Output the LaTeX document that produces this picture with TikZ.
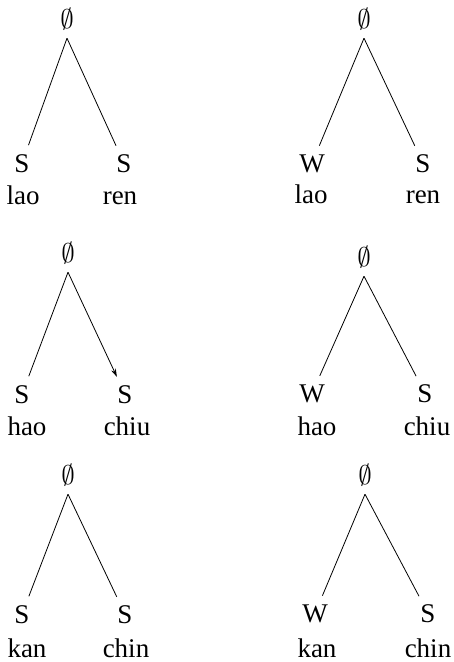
\RequirePackage{fix-cm}
\documentclass[tikz,border=0pt]{standalone}
\usepackage{fontspec}
\setmainfont{Liberation Serif}
\usepackage{tikz}
\usetikzlibrary{arrows.meta}

\begin{document}
\begin{tikzpicture}[x=1pt,y=-1pt,font=\fontsize{27}{32}\selectfont,
  every node/.style={anchor=base},
  rootnode/.style={inner sep=1pt,text depth=9pt},
  leafnode/.style={circle,inner sep=0pt,minimum size=38pt},
  branch/.style={line width=0.8pt}]
  \useasboundingbox (0,0) rectangle (454,662);
  % lao ren: S S and W S
  \node[rootnode] (r1) at (67,28) {$\emptyset$};
  \node[leafnode] (a1) at (22,172) {S};
  \node[leafnode] (b1) at (124,172) {S};
  \node (wa1) at (23,204) {lao};
  \node (wb1) at (120,204) {ren};
  \draw[branch] (r1.south) -- (a1);
  \draw[branch] (r1.south) -- (b1);
  \node[rootnode] (r2) at (364,28) {$\emptyset$};
  \node[leafnode] (a2) at (312,172) {W};
  \node[leafnode] (b2) at (423,172) {S};
  \node (wa2) at (311,203) {lao};
  \node (wb2) at (423,203) {ren};
  \draw[branch] (r2.south) -- (a2);
  \draw[branch] (r2.south) -- (b2);
  % hao chiu
  \node[rootnode] (r3) at (68,262) {$\emptyset$};
  \node[leafnode] (a3) at (22,403) {S};
  \node[leafnode] (b3) at (125,403) {S};
  \node (wa3) at (27,435) {hao};
  \node (wb3) at (127,435) {chiu};
  \draw[branch] (r3.south) -- (a3);
  \draw[branch,-{Stealth[length=8pt,width=5pt]}] (r3.south) -- (b3);
  \node[rootnode] (r4) at (364,266) {$\emptyset$};
  \node[leafnode] (a4) at (312,402) {W};
  \node[leafnode] (b4) at (425,402) {S};
  \node (wa4) at (317,435) {hao};
  \node (wb4) at (427,435) {chiu};
  \draw[branch] (r4.south) -- (a4);
  \draw[branch] (r4.south) -- (b4);
  % kan chin
  \node[rootnode] (r5) at (68,484) {$\emptyset$};
  \node[leafnode] (a5) at (22,623) {S};
  \node[leafnode] (b5) at (125,623) {S};
  \node (wa5) at (27,657) {kan};
  \node (wb5) at (126,657) {chin};
  \draw[branch] (r5.south) -- (a5);
  \draw[branch] (r5.south) -- (b5);
  \node[rootnode] (r6) at (365,484) {$\emptyset$};
  \node[leafnode] (a6) at (315,622) {W};
  \node[leafnode] (b6) at (428,622) {S};
  \node (wa6) at (317,657) {kan};
  \node (wb6) at (428,657) {chin};
  \draw[branch] (r6.south) -- (a6);
  \draw[branch] (r6.south) -- (b6);
\end{tikzpicture}
\end{document}
